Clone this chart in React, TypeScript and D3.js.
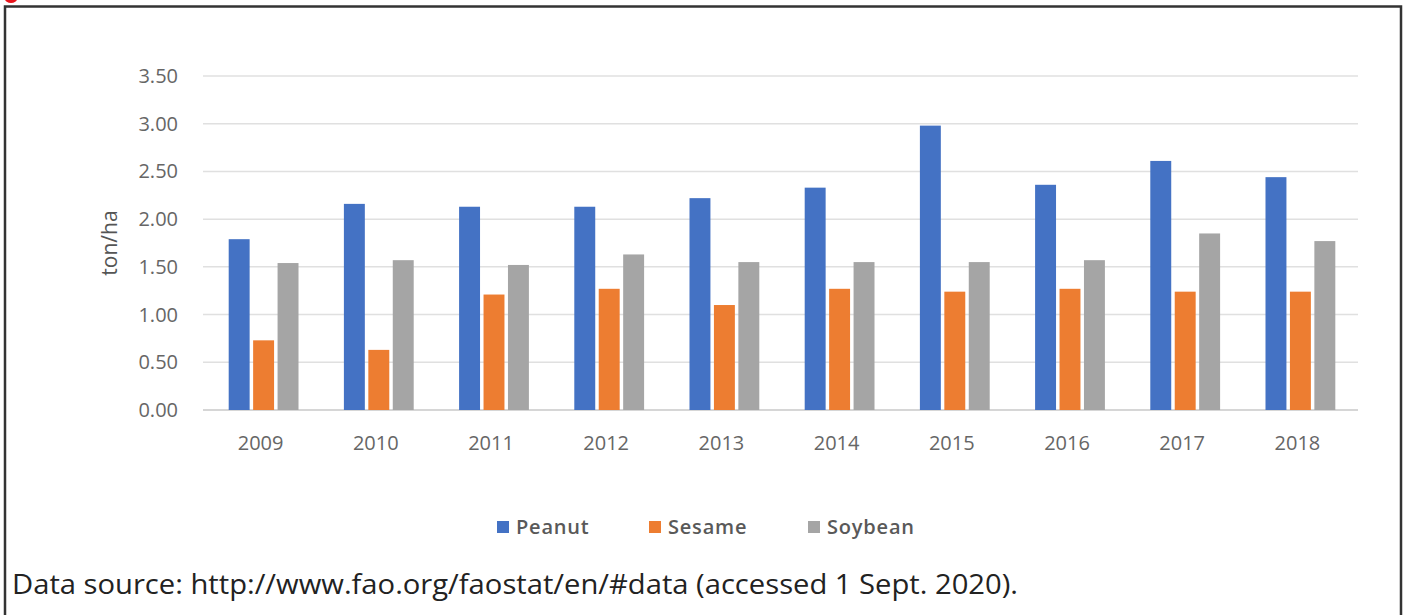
import { FC, useEffect } from "react";
import * as d3 from "d3";

const years = ["2009", "2010", "2011", "2012", "2013", "2014", "2015", "2016", "2017", "2018"];
const peanut = [1.79, 2.16, 2.13, 2.13, 2.22, 2.33, 2.98, 2.36, 2.61, 2.44];
const sesame = [0.73, 0.63, 1.21, 1.27, 1.1, 1.27, 1.24, 1.27, 1.24, 1.24];
const soybean = [1.54, 1.57, 1.52, 1.63, 1.55, 1.55, 1.55, 1.57, 1.85, 1.77];
const seriesNames = ["Peanut", "Sesame", "Soybean"];
const seriesColors = ["#4472C4", "#ED7D31", "#A5A5A5"];
const yTicks = [0, 0.5, 1, 1.5, 2, 2.5, 3, 3.5];
const sourceNote = "Data source: http://www.fao.org/faostat/en/#data (accessed 1 Sept. 2020).";

const W = 1407, H = 615;
const font = "'Open Sans', 'DejaVu Sans', sans-serif";

const App: FC = () => {
    useEffect(() => {
        document.body.style.margin = "0";
    }, []);

    const series = [peanut, sesame, soybean];

    const y = d3.scaleLinear().domain([0, 3.5]).range([410, 76]);
    const x0 = d3.scaleBand<string>().domain(years).range([206, 1358])
        .paddingInner(0.394).paddingOuter(0.197);
    const x1 = d3.scaleBand<string>().domain(seriesNames).range([0, x0.bandwidth()])
        .paddingInner(0.143).paddingOuter(0);

    // legend positions (x of square)
    const legendX = [497, 649, 808];

    return (
        <svg width={W} height={H} style={{ display: "block", background: "#fff" }}>
            {/* outer frame */}
            <rect x={5} y={6.5} width={1396} height={H + 10} fill="none" stroke="#333" strokeWidth={2.5} />
            <ellipse cx={11} cy={-1} rx={6} ry={4} fill="#e8141c" />

            {/* gridlines */}
            {yTicks.map((t) => (
                <line key={"g" + t} x1={203} x2={1358} y1={y(t)} y2={y(t)}
                    stroke={t === 0 ? "#c8c8c8" : "#e0e0e0"} strokeWidth={1.5} />
            ))}

            {/* y tick labels */}
            {yTicks.map((t) => (
                <text key={"t" + t} x={178} y={y(t)} dy="0.35em" textAnchor="end"
                    fontFamily={font} fontSize={20} fill="#666">{t.toFixed(2)}</text>
            ))}

            {/* y axis title */}
            <text transform={`translate(110,243) rotate(-90)`} textAnchor="middle" dy="0.35em"
                fontFamily={font} fontSize={21} fill="#555">ton/ha</text>

            {/* bars */}
            {years.map((yr, i) => (
                <g key={yr} transform={`translate(${x0(yr)},0)`}>
                    {seriesNames.map((s, j) => (
                        <rect key={s} x={x1(s)} y={y(series[j][i])} width={x1.bandwidth()}
                            height={y(0) - y(series[j][i])} fill={seriesColors[j]} />
                    ))}
                </g>
            ))}

            {/* x labels */}
            {years.map((yr) => (
                <text key={"x" + yr} x={(x0(yr) as number) + x0.bandwidth() / 2 - 3} y={443} dy="0.35em"
                    textAnchor="middle" fontFamily={font} fontSize={20} fill="#666">{yr}</text>
            ))}

            {/* legend */}
            {seriesNames.map((s, j) => (
                <g key={"l" + s}>
                    <rect x={legendX[j]} y={521} width={12} height={12} fill={seriesColors[j]} />
                    <text x={legendX[j] + 19} y={527} dy="0.35em" fontFamily={font} fontSize={20}
                        fontWeight={600} letterSpacing={0.8} fill="#595959">{s}</text>
                </g>
            ))}

            {/* source note */}
            <text x={12} y={594} fontFamily={font} fontSize={28} fill="#222"
                textLength={1006} lengthAdjust="spacingAndGlyphs">{sourceNote}</text>
        </svg>
    );
};

export default App;
